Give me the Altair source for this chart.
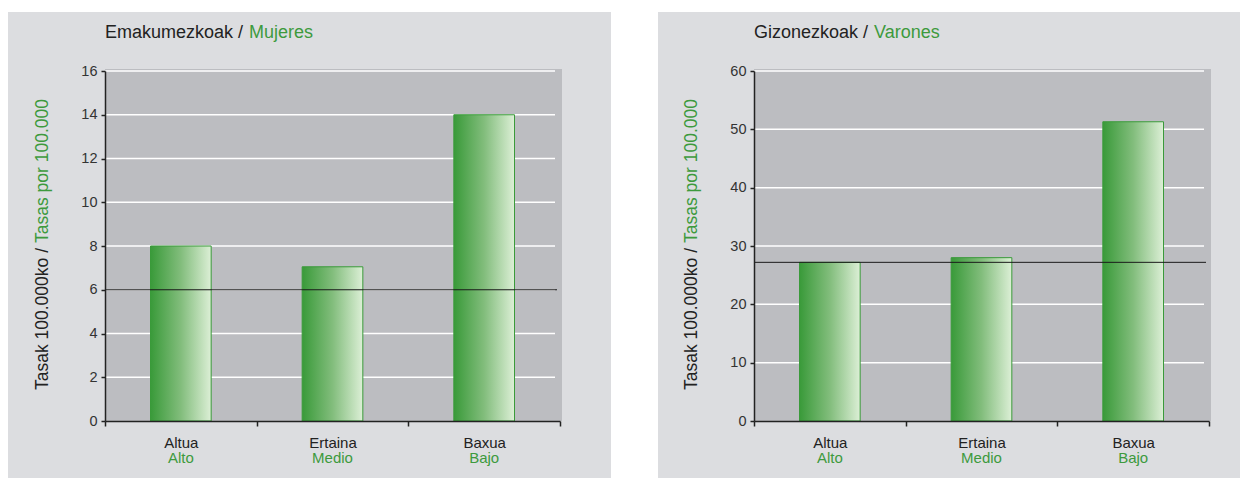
import altair as alt
import pandas as pd

# ---- data ----
categories = ["Altua", "Ertaina", "Baxua"]
categories_es = ["Alto", "Medio", "Bajo"]
women_values = [8.0, 7.05, 14.0]
men_values = [27.2, 28.0, 51.3]
women_ref = 6.0
men_ref = 27.2
women_ticks = [0, 2, 4, 6, 8, 10, 12, 14, 16]
men_ticks = [0, 10, 20, 30, 40, 50, 60]

GREEN = "#3d9a3d"
DARK = "#222222"
PANEL_BG = "#dcdde0"
PLOT_BG = "#bcbdc1"
FONT = "Liberation Sans"
W, H = 455, 350


def panel(values, ref, ticks, ymax, title_eu, title_es, es_x, left_off, right_off):
    df = pd.DataFrame({"cat": categories, "es": categories_es, "val": values})
    one = pd.DataFrame({"a": [0]})
    grid = pd.DataFrame({"t": [t for t in ticks if t > 0]})
    refdf = pd.DataFrame({"r": [ref]})

    xs = alt.Scale(domain=categories, paddingInner=0, paddingOuter=0)
    ys = alt.Scale(domain=[0, ymax], nice=False)

    bg = alt.Chart(one).mark_rect(color=PANEL_BG).encode(
        x=alt.value(-left_off), x2=alt.value(right_off),
        y=alt.value(-59), y2=alt.value(407))
    plotbg = alt.Chart(one).mark_rect(color=PLOT_BG).encode(
        x=alt.value(0), x2=alt.value(W + 2), y=alt.value(-2), y2=alt.value(H))
    gridl = alt.Chart(grid).mark_rule(color="white", strokeWidth=1.5).encode(
        y=alt.Y("t:Q", scale=ys), x=alt.value(0), x2=alt.value(450))

    grad = alt.Gradient(
        gradient="linear",
        stops=[alt.GradientStop(color="#399a39", offset=0),
               alt.GradientStop(color="#82bd7c", offset=0.5),
               alt.GradientStop(color="#dcefd6", offset=1)],
        x1=0, x2=1, y1=0, y2=0)
    bars = alt.Chart(df).mark_bar(
        color=grad, stroke="#3a9a3a", strokeWidth=1, width={"band": 0.4}
    ).encode(
        x=alt.X("cat:N", scale=xs, sort=categories, title=None,
                axis=alt.Axis(labelAngle=0, tickBand="extent", labelFont=FONT,
                              labelFontSize=15, labelColor=DARK,
                              labelBaseline="alphabetic", labelPadding=21,
                              tickSize=5, tickColor=DARK, tickWidth=1.5,
                              domainColor=DARK, domainWidth=1.5, zindex=1)),
        y=alt.Y("val:Q", scale=ys, title=None,
                axis=alt.Axis(values=ticks, grid=False, labelFont=FONT,
                              labelFontSize=14.5, labelColor="#333333",
                              labelPadding=4, tickSize=4, tickColor=DARK,
                              tickWidth=1.5, domainColor=DARK, domainWidth=1.5,
                              zindex=1)),
    )
    refl = alt.Chart(refdf).mark_rule(color="#1a1a1a", strokeWidth=1).encode(
        y=alt.Y("r:Q", scale=ys), x=alt.value(0), x2=alt.value(452))

    es_lab = alt.Chart(df).mark_text(
        font=FONT, fontSize=15, color=GREEN, baseline="alphabetic"
    ).encode(x=alt.X("cat:N", scale=xs, sort=categories), y=alt.value(H + 42),
             text="es:N")

    t1 = alt.Chart(one).mark_text(
        font=FONT, fontSize=18, color=DARK, align="left", baseline="alphabetic",
        text=title_eu + " /").encode(x=alt.value(0), y=alt.value(-33))
    t2 = alt.Chart(one).mark_text(
        font=FONT, fontSize=18, color=GREEN, align="left", baseline="alphabetic",
        text=title_es).encode(x=alt.value(es_x), y=alt.value(-33))

    yt1 = alt.Chart(one).mark_text(
        font=FONT, fontSize=17.5, color=DARK, align="right", baseline="middle",
        angle=270, text="Tasak 100.000ko /").encode(x=alt.value(-62), y=alt.value(177))
    yt2 = alt.Chart(one).mark_text(
        font=FONT, fontSize=17.5, color=GREEN, align="left", baseline="middle",
        angle=270, text="Tasas por 100.000").encode(x=alt.value(-62), y=alt.value(172))

    return alt.layer(bg, plotbg, gridl, bars, refl, es_lab, t1, t2, yt1, yt2).properties(
        width=W, height=H)


left = panel(women_values, women_ref, women_ticks, 16,
             "Emakumezkoak", "Mujeres", 144, 97, 506)
right = panel(men_values, men_ref, men_ticks, 60,
              "Gizonezkoak", "Varones", 120, 96, 486)

chart = alt.hconcat(left, right, spacing=47).properties(
    padding={"left": 0, "top": 4, "right": 0, "bottom": 0},
    background="white",
).configure_view(strokeWidth=0)

chart.save("out.html", embed_options={"renderer": "svg", "actions": False})
